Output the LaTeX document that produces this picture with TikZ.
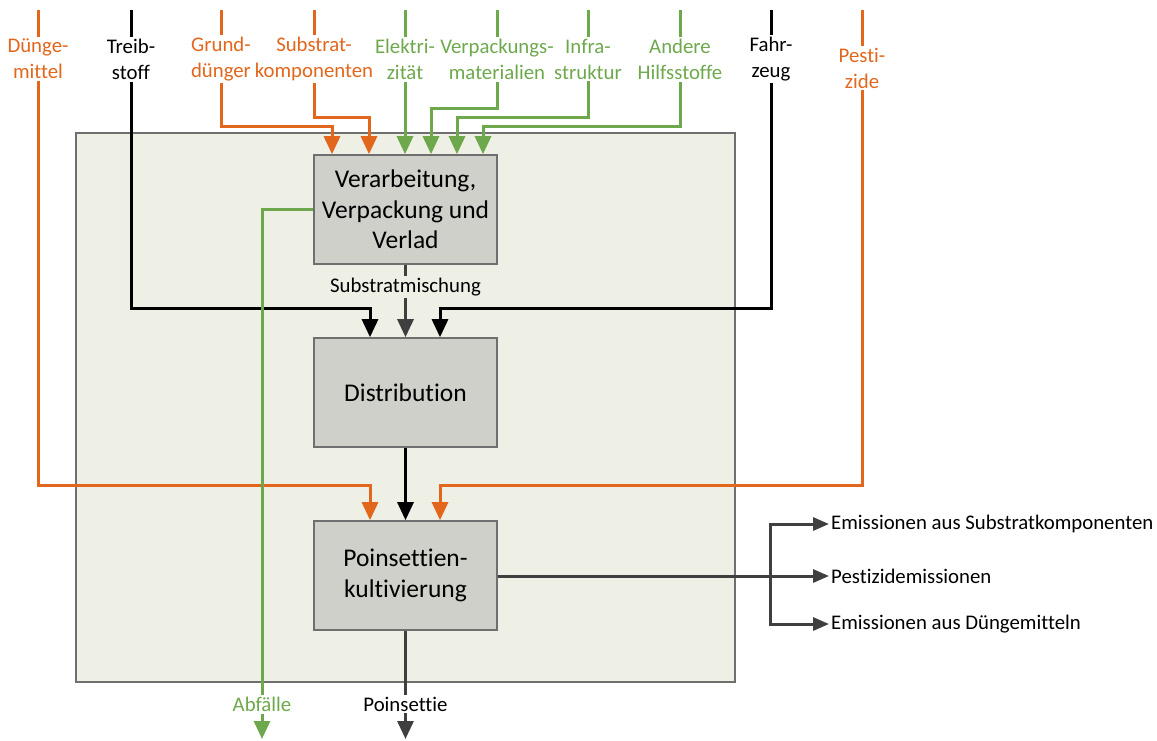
\documentclass[tikz,border=0pt]{standalone}
\usepackage{fontspec}
\setmainfont{Carlito}[Ligatures=NoCommon]
\usetikzlibrary{arrows.meta}
\definecolor{og}{HTML}{E2661C}
\definecolor{gn}{HTML}{6EA84C}
\definecolor{dk}{HTML}{3F3F3F}
\definecolor{panel}{HTML}{EEF0E6}
\definecolor{boxf}{HTML}{D0D0CA}
\definecolor{edge}{HTML}{6F6F6F}
\begin{document}
\begin{tikzpicture}[x=1pt,y=-1pt,
  proc/.style={draw=edge, fill=boxf, line width=1.6pt, minimum width=183pt, minimum height=109pt, align=center, font=\fontsize{25.5}{30.5}\selectfont, inner sep=0pt},
  lbl/.style={align=center, font=\fontsize{20.8}{26}\selectfont, inner sep=2pt},
  conn/.style={line width=3pt},
  flow/.style={line width=3pt, -{Triangle[width=16pt,length=18pt]}},
  eflow/.style={line width=3pt, -{Triangle[width=13pt,length=16pt]}}]
\useasboundingbox (0,0) rectangle (1157,740);
% panel
\path[fill=panel, draw=edge, line width=1.4pt] (76,133) rectangle (735,682);
% process boxes
\node[proc] (b1) at (405.5,209.5) {Verarbeitung,\\Verpackung und\\Verlad};
\node[proc] (b2) at (405.5,392.5) {Distribution};
\node[proc] (b3) at (405.5,575.5) {Poinsettien-\\kultivierung};
% top labels
\node[lbl, text=og] (lD) at (38,59) {Dünge-\\mittel};
\node[lbl, text=black] (lT) at (131,59) {Treib-\\stoff};
\node[lbl, text=og] (lG) at (221,59) {Grund-\\dünger};
\node[lbl, text=og] (lS) at (314,59) {Substrat-\\komponenten};
\node[lbl, text=gn] (lE) at (405,59) {Elektri-\\zität};
\node[lbl, text=gn] (lV) at (497,59) {Verpackungs-\\materialien};
\node[lbl, text=gn] (lI) at (588,59) {Infra-\\struktur};
\node[lbl, text=gn] (lA) at (680,59) {Andere\\Hilfsstoffe};
\node[lbl, text=black] (lF) at (771,59) {Fahr-\\zeug};
\node[lbl, text=og] (lP) at (862,68) {Pesti-\\zide};
% top coordinates
\coordinate (tD) at (38,10);
\coordinate (tT) at (131,10);
\coordinate (tG) at (221,10);
\coordinate (tS) at (314,10);
\coordinate (tE) at (405,10);
\coordinate (tV) at (497,10);
\coordinate (tI) at (588,10);
\coordinate (tA) at (680,10);
\coordinate (tF) at (771,10);
\coordinate (tP) at (862,10);
% junctions
\coordinate (jD) at (370,485);
\coordinate (jT) at (370,308);
\coordinate (jG) at (332,126);
\coordinate (jS) at (369,117);
\coordinate (jV) at (431,108);
\coordinate (jI) at (457,117);
\coordinate (jA) at (483,126);
\coordinate (jF) at (440,308);
\coordinate (jP) at (440,485);
% stubs above labels
\draw[conn, og] (tD) -- (lD.north);
\draw[conn, black] (tT) -- (lT.north);
\draw[conn, og] (tG) -- (lG.north);
\draw[conn, og] (tS) -- (lS.north);
\draw[conn, gn] (tE) -- (lE.north);
\draw[conn, gn] (tV) -- (lV.north);
\draw[conn, gn] (tI) -- (lI.north);
\draw[conn, gn] (tA) -- (lA.north);
\draw[conn, black] (tF) -- (lF.north);
\draw[conn, og] (tP) -- (lP.north);
% inputs
\draw[flow, og] (lG.south) |- (jG) -- (jG |- b1.north);
\draw[flow, og] (lS.south) |- (jS) -- (jS |- b1.north);
\draw[flow, gn] (lE.south) -- (lE.south |- b1.north);
\draw[flow, gn] (lV.south) |- (jV) -- (jV |- b1.north);
\draw[flow, gn] (lI.south) |- (jI) -- (jI |- b1.north);
\draw[flow, gn] (lA.south) |- (jA) -- (jA |- b1.north);
\draw[flow, black] (lT.south) |- (jT) -- (jT |- b2.north);
\draw[flow, black] (lF.south) |- (jF) -- (jF |- b2.north);
\draw[flow, og] (lD.south) |- (jD) -- (jD |- b3.north);
\draw[flow, og] (lP.south) |- (jP) -- (jP |- b3.north);
% Substratmischung
\node[lbl, text=black] (lSm) at (405.5,287) {Substratmischung};
\draw[conn, dk] (b1.south) -- (lSm.north);
\draw[flow, dk] (lSm.south) -- (b2.north);
% distribution to cultivation
\draw[flow, black] (b2.south) -- (b3.north);
% outputs bottom
\node[lbl, text=gn] (lAb) at (262,704) {Abfälle};
\node[lbl, text=black] (lPo) at (405.5,704) {Poinsettie};
\coordinate (eAb) at (262,739);
\coordinate (ePo) at (405.5,739);
\draw[conn, gn] (b1.west) -| (lAb.north);
\draw[flow, gn] (lAb.south) -- (eAb);
\draw[conn, dk] (b3.south) -- (lPo.north);
\draw[flow, dk] (lPo.south) -- (ePo);
% emissions
\node[lbl, anchor=west] (e1) at (829,524) {Emissionen aus Substratkomponenten};
\node[lbl, anchor=west] (e2) at (829,576) {Pestizidemissionen};
\node[lbl, anchor=west] (e3) at (829,624) {Emissionen aus Düngemitteln};
\coordinate (br) at (770,576);
\draw[eflow, dk] (b3.east |- e2.west) -- (e2.west);
\draw[eflow, dk] (br) |- (e1.west);
\draw[eflow, dk] (br) |- (e3.west);
\end{tikzpicture}
\end{document}
